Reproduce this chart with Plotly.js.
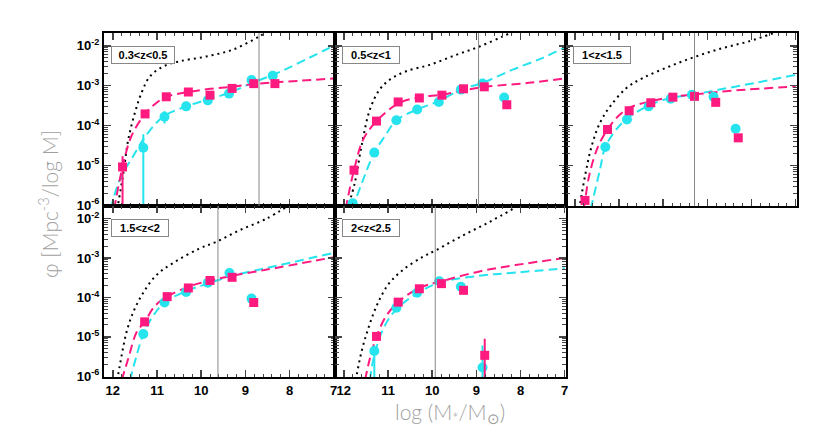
<!DOCTYPE html>
<html lang="en">
<head>
    <meta charset="UTF-8">
    <title>Stellar mass functions</title>
    <script src='https://cdn.plot.ly/plotly-3.0.0.min.js'></script>
</head>
<body style="margin:0;">
    <div id="plot"></div>

    <script>
        // redshift bin labels
        const binLabels = ['0.3&lt;z&lt;0.5', '0.5&lt;z&lt;1', '1&lt;z&lt;1.5', '1.5&lt;z&lt;2', '2&lt;z&lt;2.5'];

        // completeness limits (vertical grey lines)
        const massLimit = [8.69, 8.95, 9.29, 9.62, 9.93];

        // magenta squares: log M, log phi
        const sqX = [
            [11.78, 11.27, 10.79, 10.29, 9.80, 9.30, 8.81, 8.33],
            [11.77, 11.26, 10.77, 10.29, 9.78, 9.29, 8.82, 8.31],
            [11.77, 11.26, 10.77, 10.28, 9.78, 9.29, 8.81, 8.30],
            [11.28, 10.77, 10.29, 9.80, 9.30, 8.81],
            [11.26, 10.77, 10.29, 9.79, 9.29, 8.81]
        ];
        const sqY = [
            [-5.04, -3.71, -3.28, -3.16, -3.24, -3.07, -2.95, -2.95],
            [-5.12, -3.89, -3.41, -3.31, -3.24, -3.08, -3.03, -3.48],
            [-5.88, -4.10, -3.63, -3.43, -3.29, -3.27, -3.42, -4.31],
            [-4.62, -3.98, -3.76, -3.57, -3.49, -4.13],
            [-4.99, -4.12, -3.78, -3.65, -3.82, -5.47]
        ];
        // upper / lower ends of the square error bars (null = none)
        const sqHi = [
            [-4.77, null, null, null, null, null, null, null],
            [], [], [],
            [null, null, null, null, null, -5.05]
        ];
        const sqLo = [
            [-7, null, null, null, null, null, null, null],
            [], [], [],
            [null, null, null, null, null, -7]
        ];

        // cyan circles
        const ciX = [
            [11.31, 10.83, 10.34, 9.85, 9.37, 8.86, 8.38],
            [11.80, 11.31, 10.81, 10.34, 9.85, 9.35, 8.86, 8.37],
            [11.31, 10.82, 10.33, 9.83, 9.35, 8.86, 8.36],
            [11.31, 10.83, 10.34, 9.85, 9.36, 8.86],
            [11.31, 10.81, 10.34, 9.84, 9.35, 8.86]
        ];
        const ciY = [
            [-4.56, -3.78, -3.52, -3.37, -3.20, -2.86, -2.75],
            [-5.95, -4.68, -3.87, -3.60, -3.41, -3.10, -2.95, -3.30],
            [-4.54, -3.85, -3.52, -3.33, -3.23, -3.28, -4.08],
            [-4.93, -4.13, -3.86, -3.63, -3.38, -4.03],
            [-5.36, -4.26, -3.88, -3.59, -3.73, -5.78]
        ];
        const ciHi = [
            [-4.22, -3.64, null, null, null, null, null],
            [], [], [],
            [-5.22, null, null, null, null, -5.22]
        ];
        const ciLo = [
            [-7, -3.95, null, null, null, null, null],
            [], [], [],
            [-7, null, null, null, null, -7]
        ];

        // magenta dashed fits
        const fitMX = [
            [11.97, 11.78, 11.58, 11.27, 11.01, 10.79, 10.29, 9.80, 9.30, 8.81, 7.79, 7.0],
            [11.96, 11.77, 11.56, 11.26, 10.77, 10.29, 9.78, 9.31, 8.78, 7.81, 7.0],
            [11.80, 11.77, 11.66, 11.47, 11.26, 11.02, 10.77, 10.28, 9.78, 9.29, 8.35, 7.0],
            [11.80, 11.65, 11.46, 11.28, 11.05, 10.77, 10.29, 9.80, 9.30, 8.54, 7.0],
            [11.52, 11.41, 11.26, 11.04, 10.77, 10.29, 9.79, 8.93, 8.11, 7.0]
        ];
        const fitMY = [
            [-6.1, -5.04, -4.27, -3.71, -3.43, -3.28, -3.16, -3.08, -3.03, -2.96, -2.88, -2.82],
            [-6.1, -5.12, -4.35, -3.89, -3.45, -3.29, -3.23, -3.12, -3.03, -2.93, -2.82],
            [-6.1, -5.89, -5.18, -4.52, -4.10, -3.77, -3.56, -3.39, -3.28, -3.22, -3.12, -3.02],
            [-6.1, -5.55, -4.88, -4.62, -4.22, -3.98, -3.73, -3.57, -3.45, -3.30, -2.98],
            [-6.1, -5.55, -4.99, -4.47, -4.12, -3.76, -3.59, -3.34, -3.18, -3.00]
        ];

        // cyan dashed fits
        const fitCX = [
            [12.05, 11.84, 11.54, 11.31, 11.01, 10.79, 10.34, 9.85, 9.36, 8.84, 8.31, 7.79, 7.0],
            [11.81, 11.56, 11.31, 11.07, 10.81, 10.34, 9.85, 9.35, 8.86, 8.18, 7.51, 7.0],
            [11.64, 11.43, 11.31, 11.06, 10.82, 10.33, 9.83, 9.35, 8.73, 7.91, 7.0],
            [11.61, 11.46, 11.31, 11.09, 10.83, 10.34, 9.85, 9.36, 8.54, 7.0],
            [11.41, 11.31, 11.11, 10.81, 10.34, 9.84, 8.93, 8.11, 7.0]
        ];
        const fitCY = [
            [-6.1, -5.35, -4.77, -4.35, -3.93, -3.73, -3.52, -3.35, -3.18, -2.93, -2.70, -2.43, -2.0],
            [-6.1, -5.35, -4.68, -4.27, -3.87, -3.60, -3.39, -3.10, -2.93, -2.60, -2.31, -2.04],
            [-6.1, -5.10, -4.54, -4.10, -3.83, -3.50, -3.31, -3.23, -3.10, -2.93, -2.73],
            [-6.1, -5.47, -4.93, -4.47, -4.13, -3.84, -3.65, -3.47, -3.26, -2.87],
            [-6.1, -5.47, -4.80, -4.30, -3.90, -3.63, -3.45, -3.37, -3.26]
        ];

        // black dotted reference curves
        const refX = [
            [11.90, 11.76, 11.65, 11.50, 11.35, 11.16, 10.86, 10.49, 9.89, 9.29, 8.69, 8.50],
            [11.92, 11.75, 11.60, 11.41, 11.19, 10.96, 10.59, 10.06, 9.46, 8.93, 8.41, 8.15],
            [11.90, 11.77, 11.62, 11.43, 11.20, 10.83, 10.46, 9.86, 9.26, 8.66, 8.06, 7.45],
            [11.90, 11.80, 11.69, 11.54, 11.31, 11.01, 10.64, 10.04, 9.66, 9.14, 8.54, 8.0],
            [11.73, 11.60, 11.45, 11.26, 11.00, 10.66, 10.21, 9.91, 9.31, 8.71, 8.10]
        ];
        const refY = [
            [-6.1, -5.18, -4.35, -3.68, -3.18, -2.77, -2.52, -2.39, -2.27, -2.10, -1.77, -1.64],
            [-6.1, -5.43, -4.52, -3.60, -3.10, -2.85, -2.64, -2.48, -2.23, -2.02, -1.77, -1.64],
            [-6.1, -5.27, -4.52, -3.93, -3.52, -3.06, -2.81, -2.52, -2.27, -2.06, -1.89, -1.66],
            [-6.1, -5.47, -4.88, -4.38, -3.88, -3.43, -3.13, -2.76, -2.59, -2.30, -2.01, -1.66],
            [-6.1, -5.38, -4.80, -4.22, -3.68, -3.30, -2.97, -2.80, -2.43, -2.09, -1.71]
        ];

        const yTickVals = [1e-6, 1e-5, 1e-4, 1e-3, 1e-2];
        const yTickText = ['10<sup>-6</sup>', '10<sup>-5</sup>', '10<sup>-4</sup>', '10<sup>-3</sup>', '10<sup>-2</sup>'];
        const xTickVals = [12, 11, 10, 9, 8, 7];

        // minor log ticks 2..9 in every decade
        const yMinor = [];
        for (let e = -6; e <= -2; e++) for (let m = 2; m <= 9; m++) yMinor.push(m * Math.pow(10, e));

        const magenta = '#ff1a80';
        const cyan = '#26e4ee';
        const W = 830, H = 432;

        // panel boxes in pixels: [left, right, top, bottom]
        const boxes = [
            [104, 335, 33, 206], [335, 566, 33, 206], [566, 797, 33, 206],
            [104, 335, 206, 377], [335, 566, 206, 377]
        ];

        const pow10 = a => a.map(v => Math.pow(10, v));

        function errBars(y, hi, lo, color) {
            if (!hi.length) return {visible: false};
            return {
                type: 'data', symmetric: false, visible: true,
                array: y.map((v, i) => hi[i] === null ? 0 : Math.pow(10, hi[i]) - Math.pow(10, v)),
                arrayminus: y.map((v, i) => lo[i] === null ? 0 : Math.pow(10, v) - Math.pow(10, lo[i])),
                color: color, thickness: 2, width: 0
            };
        }

        const traces = [];
        const layout = {
            width: W, height: H,
            margin: {l: 0, r: 0, t: 0, b: 0},
            paper_bgcolor: 'white', plot_bgcolor: 'white',
            showlegend: false,
            font: {family: 'Liberation Sans, Arial, sans-serif', color: 'black'},
            shapes: [], annotations: []
        };

        for (let i = 0; i < 5; i++) {
            const n = i + 1;
            const xa = 'x' + n, ya = 'y' + n;
            const b = boxes[i];

            traces.push({x: refX[i], y: pow10(refY[i]), xaxis: xa, yaxis: ya, mode: 'lines',
                line: {color: 'black', width: 2, dash: '2px,4px', shape: 'spline'}});
            traces.push({x: fitCX[i], y: pow10(fitCY[i]), xaxis: xa, yaxis: ya, mode: 'lines',
                line: {color: cyan, width: 2, dash: '9px,5px', shape: 'spline'}});
            traces.push({x: fitMX[i], y: pow10(fitMY[i]), xaxis: xa, yaxis: ya, mode: 'lines',
                line: {color: magenta, width: 2, dash: '9px,5px', shape: 'spline'}});
            traces.push({x: ciX[i], y: pow10(ciY[i]), xaxis: xa, yaxis: ya, mode: 'markers',
                marker: {symbol: 'circle', size: 10, color: cyan},
                error_y: errBars(ciY[i], ciHi[i], ciLo[i], cyan)});
            traces.push({x: sqX[i], y: pow10(sqY[i]), xaxis: xa, yaxis: ya, mode: 'markers',
                marker: {symbol: 'square', size: 9, color: magenta},
                error_y: errBars(sqY[i], sqHi[i], sqLo[i], magenta)});

            const xName = n === 1 ? 'xaxis' : 'xaxis' + n;
            const yName = n === 1 ? 'yaxis' : 'yaxis' + n;
            layout[xName] = {
                domain: [b[0] / W, b[1] / W], anchor: ya,
                range: [12.2, 6.97], tickvals: xTickVals,
                showticklabels: i >= 3, ticks: 'inside', ticklen: 7, tickwidth: 1.5,
                minor: {ticks: 'inside', ticklen: 3, dtick: 0.2, tickwidth: 1},
                showline: true, linewidth: 2, linecolor: 'black', mirror: 'allticks',
                showgrid: false, zeroline: false,
                tickfont: {size: 13, color: 'black', weight: 'bold'}
            };
            layout[yName] = {
                domain: [1 - b[3] / H, 1 - b[2] / H], anchor: xa,
                type: 'log', range: [-6.02, -1.68],
                tickvals: yTickVals, ticktext: yTickText,
                showticklabels: i === 0 || i === 3, ticks: 'inside', ticklen: 7, tickwidth: 1.5,
                minor: {ticks: 'inside', ticklen: 4, tickvals: yMinor, tickwidth: 1},
                showline: true, linewidth: 2, linecolor: 'black', mirror: 'allticks',
                showgrid: false, zeroline: false,
                tickfont: {size: 13, color: 'black', weight: 'bold'}
            };

            layout.shapes.push({type: 'line', xref: xa, yref: ya + ' domain',
                x0: massLimit[i], x1: massLimit[i], y0: 0, y1: 1,
                line: {color: '#888', width: 1}});

            layout.annotations.push({
                text: binLabels[i], xref: 'paper', yref: 'paper',
                x: (b[0] + 7) / W, y: 1 - (b[2] + 13) / H, xanchor: 'left', yanchor: 'top',
                showarrow: false, bgcolor: 'white', bordercolor: '#888', borderwidth: 1,
                width: i === 0 ? 60 : 54, height: 14,
                font: {size: 11, color: 'black', weight: 'bold'}
            });
        }

        layout.annotations.push({
            text: '\u03c6 [Mpc<sup>-3</sup>/log M]', xref: 'paper', yref: 'paper',
            x: 48 / W, y: 1 - 204 / H, xanchor: 'center', yanchor: 'middle',
            textangle: -90, showarrow: false,
            font: {size: 21, color: '#a0a0a0', family: 'Lato', weight: 300}
        });
        layout.annotations.push({
            text: 'log (M<sub>*</sub>/M<sub>\u2299</sub>)', xref: 'paper', yref: 'paper',
            x: 450 / W, y: 1 - 413 / H, xanchor: 'center', yanchor: 'middle',
            showarrow: false,
            font: {size: 21, color: '#a0a0a0', family: 'Lato', weight: 300}
        });

        Plotly.newPlot('plot', traces, layout, {displayModeBar: false, staticPlot: true});
    </script>
</body>
</html>
